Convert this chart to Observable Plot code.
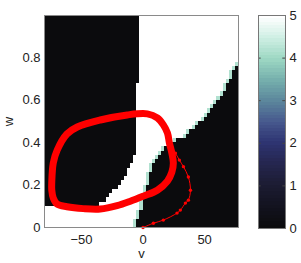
<!DOCTYPE html>
<html><head><meta charset="utf-8">
<script src="https://cdn.jsdelivr.net/npm/d3@7"></script>
<script src="https://cdn.jsdelivr.net/npm/@observablehq/plot@0.6"></script>
<style>
body{margin:0;background:#fff;font-family:"Liberation Sans",Arial,sans-serif}
#row{display:flex;width:301px;height:263px}
</style>
</head><body><div id="row"></div>
<script>
// grid of the map
const vMin = -80, vStep = 2.5, nCols = 63, wStep = 0.02, nRows = 50;
// per row (w from 0 upward): left black region spans vMin .. leftBlackEnd
const leftBlackEnd = [-80,-80,-80,-80,-80,
  -35,-30,-27.5,-25,-20,-17.5,-15,-12.5,-12.5,-10,-7.5,-7.5,
  -5,-5,-5,-5,-5,-5,-5,-5,-5,-5,-5,-5,-5,-5,-5,-5,-5,
  -2.5,-2.5,-2.5,-2.5,-2.5,-2.5,-2.5,-2.5,-2.5,-2.5,-2.5,-2.5,-2.5,-2.5,-2.5,-2.5];
// per row: right black region starts here (one intermediate cell just before it)
const rightBlackStart = [-5,-5,-2.5,-2.5,0,0,0,2.5,2.5,2.5,5,5,5,7.5,7.5,10,12.5,15,17.5,22.5,
  27.5,35,37.5,42.5,45,50,52.5,55,57.5,60,62.5,65,67.5,67.5,70,72.5,72.5,75,77.5,
  null,null,null,null,null,null,null,null,null,null,null];
const lowValue = 0, highValue = 5, edgeValue = 4.2;

// limit cycle (v, w)
const loopV = [-74.1,-72.9,-69.7,-61.8,-53.4,-34.7,-12.8,3.5,11.6,16.5,19.8,21.4,23.4,24.6,23.4,19.8,11.6,0.2,-10.3,-21.1,-34.7,-48.5,-61.8,-69.7,-72.9,-74.1];
const loopW = [0.214,0.304,0.365,0.441,0.474,0.507,0.531,0.536,0.517,0.484,0.446,0.399,0.351,0.304,0.261,0.219,0.176,0.148,0.124,0.103,0.087,0.089,0.098,0.110,0.139,0.176];
// transient from the origin
const transV = [0,8.4,16.5,27.6,30.3,34.4,36.8,38.5,36.8,32.8,29.5,26.3,22.2];
const transW = [0,0.02,0.035,0.068,0.082,0.115,0.129,0.176,0.238,0.287,0.318,0.351,0.389];

const xTicks = [-50,0,50];
const yTicks = [0,0.2,0.4,0.6,0.8];
const yTickLabels = ["0","0.2","0.4","0.6","0.8"];
const cTicks = [0,1,2,3,4,5];
const xLabel = "v", yLabel = "w";
const cmapStops = ["#0b0b0d","#131320","#1c1c33","#25264f","#2e3472","#47598e","#5c879c","#76b0ad","#9dd8c3","#cfefe4","#ffffff"];

const cmap = d3.piecewise(d3.interpolateRgb, cmapStops);
const font = "Liberation Sans, Arial, sans-serif";

const cells = [];
for (let j = 0; j < nRows; j++) {
  const w1 = j * wStep, w2 = (j + 1) * wStep;
  const L = leftBlackEnd[j], R = rightBlackStart[j];
  for (let i = 0; i < nCols; i++) {
    const v1 = vMin + i * vStep, v2 = v1 + vStep;
    let val = highValue;
    if (v2 <= L + 1e-9) val = lowValue;
    else if (R != null && v1 >= R - 1e-9) val = lowValue;
    else if (R != null && Math.abs(v2 - R) < 1e-9) val = edgeValue;
    cells.push({v1, v2, w1, w2, val});
  }
}
const loop = loopV.map((v, i) => ({v, w: loopW[i]}));
const trans = transV.map((v, i) => ({v, w: transW[i]}));
const vMax = vMin + nCols * vStep;

const main = Plot.plot({
  width: 250, height: 263,
  marginLeft: 44, marginRight: 12, marginTop: 15, marginBottom: 36,
  style: {fontFamily: font, fontSize: "13px", background: "transparent", color: "#222"},
  x: {domain: [vMin, vMax]},
  y: {domain: [0, 1]},
  color: {type: "linear", domain: [0, 5], interpolate: cmap},
  marks: [
    Plot.rect(cells, {x1: "v1", x2: "v2", y1: "w1", y2: "w2", fill: "val", shapeRendering: "crispEdges"}),
    Plot.line(loop, {x: "v", y: "w", stroke: "#ff0000", strokeWidth: 7, curve: "catmull-rom-closed"}),
    Plot.line(trans, {x: "v", y: "w", stroke: "#ff0000", strokeWidth: 1, curve: "catmull-rom"}),
    Plot.dot(trans, {x: "v", y: "w", fill: "#ff0000", r: 1.7}),
    Plot.frame({stroke: "#8a8a8a"}),
    Plot.axisX(xTicks, {tickSize: 0, tickPadding: 7, fontSize: 13, label: null}),
    Plot.axisY(yTicks, {tickSize: 0, tickPadding: 4, fontSize: 13, label: null,
      tickFormat: d => yTickLabels[yTicks.indexOf(d)]}),
    Plot.text([xLabel], {x: (vMin + vMax) / 2, y: 0, dy: 26, lineAnchor: "middle", fontSize: 13}),
    Plot.text([yLabel], {x: vMin, y: 0.5, dx: -36, lineAnchor: "middle", rotate: -90, fontSize: 13})
  ]
});

const nLevels = 64;
const levels = d3.range(nLevels).map(i => ({c1: i * 5 / nLevels, c2: (i + 1) * 5 / nLevels, c: i * 5 / (nLevels - 1)}));
const bar = Plot.plot({
  width: 51, height: 263,
  marginLeft: 8, marginRight: 16, marginTop: 15, marginBottom: 35,
  style: {fontFamily: font, fontSize: "13px", background: "transparent", color: "#222"},
  x: {domain: [0, 1], axis: null},
  y: {domain: [0, 5]},
  color: {type: "linear", domain: [0, 5], interpolate: cmap},
  marks: [
    Plot.rect(levels, {x1: 0, x2: 1, y1: "c1", y2: "c2", fill: "c", shapeRendering: "crispEdges"}),
    Plot.ruleY(cTicks.slice(1, -1), {x1: 0, x2: 0.1, stroke: "#444"}),
    Plot.ruleY(cTicks.slice(1, -1), {x1: 0.9, x2: 1, stroke: "#444"}),
    Plot.frame({stroke: "#777"}),
    Plot.axisY(cTicks, {anchor: "right", tickSize: 0, tickPadding: 4, fontSize: 13, label: null})
  ]
});
document.getElementById("row").append(main, bar);
</script>
</body></html>
